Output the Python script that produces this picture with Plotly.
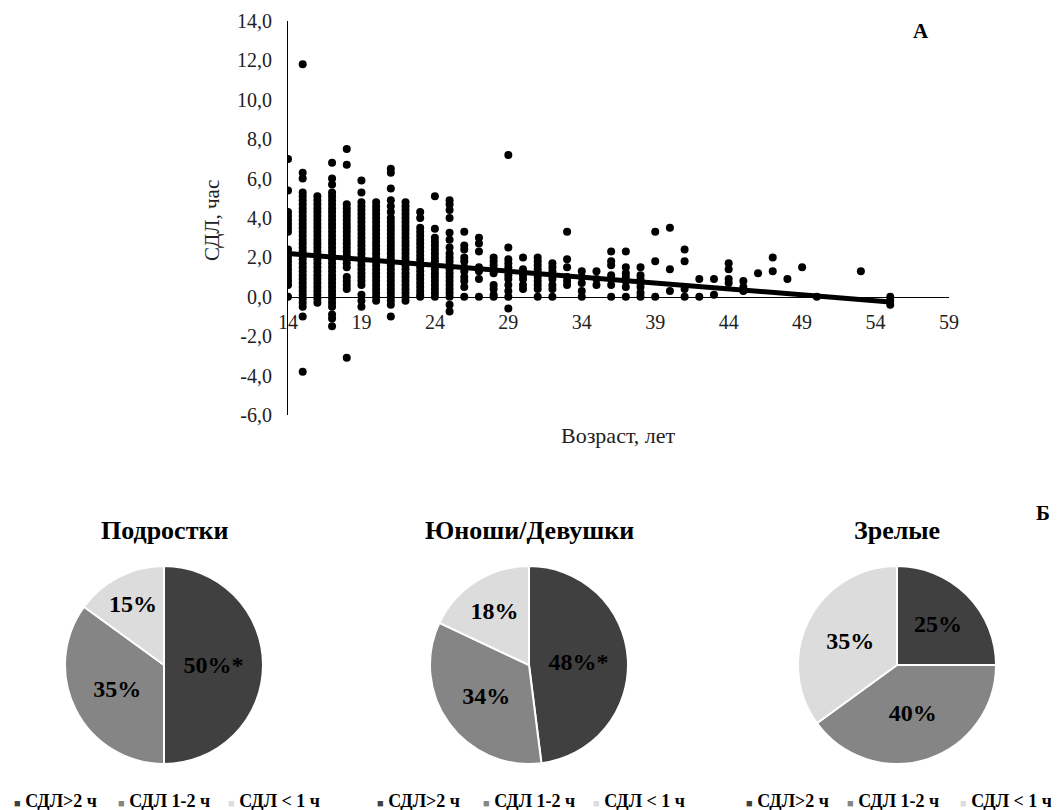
import plotly.graph_objects as go

# ---------------- Panel A data: СДЛ (hours) by age ----------------
col_14 = [7.0, 5.4, 4.3, 4.1, 3.9, 3.7, 3.5, 3.3, 2.4, 2.2, 2.0, 1.8, 1.6, 1.4, 1.2, 1.0, 0.8, 0.6, 0.0]
col_15 = [11.8, 6.3, 6.0, 5.3, 5.1, 4.9, 4.7, 4.5, 4.3, 4.1, 3.9, 3.7, 3.5, 3.3, 3.1, 2.9, 2.7, 2.5,
          2.3, 2.1, 1.9, 1.7, 1.5, 1.3, 1.1, 0.9, 0.7, 0.5, 0.3, 0.1, -0.1, -0.3, -0.5, -1.0, -3.8]
col_16 = [5.1, 4.9, 4.7, 4.5, 4.3, 4.1, 3.9, 3.7, 3.5, 3.3, 3.1, 2.9, 2.7, 2.5, 2.3, 2.1, 1.9, 1.7,
          1.5, 1.3, 1.1, 0.9, 0.7, 0.5, 0.3, 0.1, -0.1, -0.3]
col_17 = [6.8, 6.0, 5.7, 5.3, 5.1, 4.9, 4.7, 4.5, 4.3, 4.1, 3.9, 3.7, 3.5, 3.3, 3.1, 2.9, 2.7, 2.5,
          2.3, 2.1, 1.9, 1.7, 1.5, 1.3, 1.1, 0.9, 0.7, 0.5, 0.3, 0.1, -0.1, -0.3, -0.5, -0.9, -1.1, -1.5]
col_18 = [7.5, 6.7, 4.7, 4.5, 4.3, 4.1, 3.9, 3.7, 3.5, 3.3, 3.1, 2.9, 2.7, 2.5, 2.3, 2.1, 1.9, 1.7,
          1.5, 1.0, 0.8, 0.6, 0.4, -3.1]
col_19 = [5.9, 5.3, 4.8, 4.6, 4.4, 4.2, 4.0, 3.8, 3.6, 3.4, 3.2, 3.0, 2.8, 2.6, 2.4, 2.2, 2.0, 1.8,
          1.6, 1.4, 1.2, 1.0, 0.8, 0.6, 0.1, -0.2, -0.5]
col_20 = [4.8, 4.6, 4.4, 4.2, 4.0, 3.8, 3.6, 3.4, 3.2, 3.0, 2.8, 2.6, 2.4, 2.2, 2.0, 1.8, 1.6, 1.4,
          1.2, 1.0, 0.8, 0.6, 0.4, 0.2, 0.0, -0.2]
col_21 = [6.5, 6.3, 5.5, 4.9, 4.6, 4.3, 4.0, 3.8, 3.6, 3.4, 3.2, 3.0, 2.8, 2.6, 2.4, 2.2, 2.0, 1.8,
          1.6, 1.4, 1.2, 1.0, 0.8, 0.6, 0.4, 0.2, 0.0, -0.2, -0.4, -1.0]
col_22 = [4.8, 4.6, 4.4, 4.2, 4.0, 3.8, 3.6, 3.4, 3.2, 3.0, 2.8, 2.6, 2.4, 2.2, 2.0, 1.8, 1.6, 1.4,
          1.2, 1.0, 0.8, 0.6, 0.4, 0.2, 0.0, -0.2]
col_23 = [4.3, 4.0, 3.5, 3.3, 3.1, 2.9, 2.7, 2.5, 2.3, 2.1, 1.9, 1.7, 1.5, 1.3, 1.1, 0.9, 0.7, 0.5,
          0.3, 0.1, 0.0]
col_24 = [5.1, 3.45, 3.0, 2.8, 2.6, 2.4, 2.2, 2.0, 1.8, 1.6, 1.4, 1.2, 1.0, 0.8, 0.6, 0.4, 0.2, 0.0]
col_25 = [4.9, 4.7, 4.4, 4.0, 3.25, 2.9, 2.5, 2.2, 2.0, 1.8, 1.6, 1.4, 1.2, 1.0, 0.8, 0.6, 0.4, 0.2,
          0.0, -0.4, -0.75]
col_26 = [3.3, 2.6, 2.4, 2.0, 1.8, 1.5, 1.3, 1.0, 0.8, 0.5, 0.0]
col_27 = [3.0, 2.7, 2.3, 1.5, 1.3, 0.9, 0.0]
col_28 = [2.0, 1.8, 1.6, 1.4, 1.2, 0.6, 0.4, 0.1, 0.0]
col_29 = [7.2, 2.5, 1.9, 1.7, 1.5, 1.3, 1.1, 0.9, 0.6, 0.3, 0.0, -0.6]
col_30 = [2.0, 1.4, 1.1, 0.9, 0.6, 0.4]
col_31 = [2.0, 1.8, 1.6, 1.4, 1.2, 1.0, 0.8, 0.6, 0.4, 0.0]
col_32 = [1.7, 1.5, 1.3, 1.1, 0.9, 0.6, 0.4, 0.0]
col_33 = [3.3, 1.9, 1.5, 1.0, 0.8, 0.6]
col_34 = [1.3, 1.0, 0.7, 0.3, 0.0]
col_35 = [1.3, 0.9, 0.6]
col_36 = [2.3, 1.8, 1.6, 1.1, 0.9, 0.6, 0.0]
col_37 = [2.3, 1.5, 1.2, 1.0, 0.8, 0.5, 0.0]
col_38 = [1.5, 1.1, 0.9, 0.7, 0.5, 0.2, 0.0]
col_39 = [3.3, 1.8, 0.0]
col_40 = [3.5, 1.4, 0.3]
col_41 = [2.4, 1.8, 0.4, 0.0]
col_42 = [0.9, 0.0]
col_43 = [0.9, 0.1]
col_44 = [1.7, 1.4, 0.9, 0.7]
col_45 = [0.8, 0.5, 0.3]
col_46 = [1.2]
col_47 = [2.0, 1.3]
col_48 = [0.9]
col_49 = [1.5]
col_50 = [0.0]
col_53 = [1.3]
col_55 = [0.0, -0.2, -0.4]

ages = [14, 15, 16, 17, 18, 19, 20, 21, 22, 23, 24, 25, 26, 27, 28, 29, 30, 31, 32, 33,
        34, 35, 36, 37, 38, 39, 40, 41, 42, 43, 44, 45, 46, 47, 48, 49, 50, 53, 55]
age_columns = [col_14, col_15, col_16, col_17, col_18, col_19, col_20, col_21, col_22, col_23,
               col_24, col_25, col_26, col_27, col_28, col_29, col_30, col_31, col_32, col_33,
               col_34, col_35, col_36, col_37, col_38, col_39, col_40, col_41, col_42, col_43,
               col_44, col_45, col_46, col_47, col_48, col_49, col_50, col_53, col_55]

# linear trend (value at the ends of the age span)
trend_x = [14, 55]
trend_y = [2.2, -0.26]

x_tick_vals = [14, 19, 24, 29, 34, 39, 44, 49, 54, 59]
y_tick_vals = [-6, -4, -2, 0, 2, 4, 6, 8, 10, 12, 14]
y_tick_labels = ["-6,0", "-4,0", "-2,0", "0,0", "2,0", "4,0", "6,0", "8,0", "10,0", "12,0", "14,0"]

# ---------------- Panel Б data: pies ----------------
group_titles = ["Подростки", "Юноши/Девушки", "Зрелые"]
slice_labels = ["СДЛ>2 ч", "СДЛ 1-2 ч", "СДЛ < 1 ч"]
teen_values = [50, 35, 15]
young_values = [48, 34, 18]
mature_values = [25, 40, 35]
teen_marks = ["*", "", ""]
young_marks = ["*", "", ""]
mature_marks = ["", "", ""]

# ---------------- styling ----------------
FONT = "Liberation Serif"
W, H = 1059, 810
OFF = 8  # page body margin: figure origin sits at (8, 8) on screen
slice_colors = ["#404040", "#858585", "#dcdcdc"]


def fx(px):
    """screen x pixel -> paper fraction"""
    return (px - OFF) / W


def fy(py):
    """screen y pixel -> paper fraction"""
    return (H - (py - OFF)) / H


xs, ys = [], []
for a, col in zip(ages, age_columns):
    xs.extend([a] * len(col))
    ys.extend(col)

fig = go.Figure()
fig.add_trace(go.Scatter(x=xs, y=ys, mode="markers",
                         marker=dict(color="black", size=8), showlegend=False,
                         xaxis="x", yaxis="y"))
fig.add_trace(go.Scatter(x=trend_x, y=trend_y, mode="lines",
                         line=dict(color="black", width=5), showlegend=False,
                         xaxis="x", yaxis="y"))

# scatter plot area (screen pixels)
px_left, px_right = 288, 949
py_top, py_bottom = 21, 415
y_dom = [fy(py_bottom), fy(py_top)]
y_min, y_max = -6, 14
zero_pos = y_dom[0] + (0 - y_min) / (y_max - y_min) * (y_dom[1] - y_dom[0])

fig.update_layout(
    xaxis=dict(domain=[fx(px_left), fx(px_right)], range=[14, 59], anchor="free",
               position=zero_pos, showline=True, linecolor="black", linewidth=1,
               showgrid=False, zeroline=False, tickvals=x_tick_vals, ticks="",
               ticklabelstandoff=7, automargin=False,
               tickfont=dict(family=FONT, size=20, color="#222")),
    yaxis=dict(domain=y_dom, range=[y_min, y_max], anchor="x", showline=True,
               linecolor="black", linewidth=1, showgrid=False, zeroline=False,
               tickvals=y_tick_vals, ticktext=y_tick_labels, ticks="",
               ticklabelstandoff=11, automargin=False,
               tickfont=dict(family=FONT, size=20, color="#222")),
)

# pies
pie_centers = [164, 529, 897]
pie_cy = 665
pie_r = 99
all_values = [teen_values, young_values, mature_values]
all_marks = [teen_marks, young_marks, mature_marks]
for cx, vals, marks in zip(pie_centers, all_values, all_marks):
    texts = [f"{v}%{m}" for v, m in zip(vals, marks)]
    fig.add_trace(go.Pie(
        labels=slice_labels, values=vals, text=texts, textinfo="text",
        sort=False, direction="clockwise", rotation=0,
        marker=dict(colors=slice_colors, line=dict(color="white", width=2)),
        textposition="inside", insidetextorientation="horizontal",
        textfont=dict(family=FONT, size=24, color="black", weight="bold"),
        domain=dict(x=[fx(cx - pie_r), fx(cx + pie_r)],
                    y=[fy(pie_cy + pie_r), fy(pie_cy - pie_r)]),
        showlegend=False, hoverinfo="label+percent", automargin=False,
    ))

annotations = []


def note(x, y, text, size, color="#222", angle=0):
    return dict(x=fx(x), y=fy(y), xref="paper", yref="paper", xanchor="center",
                yanchor="middle", text=text, textangle=angle, showarrow=False,
                font=dict(family=FONT, size=size, color=color))


# axis titles
annotations.append(note(212, 220, "СДЛ, час", 21, angle=-90))
annotations.append(note(618, 436, "Возраст, лет", 22))
# panel letters
annotations.append(note(921, 31, "<b>А</b>", 21, color="black"))
annotations.append(note(1043, 513, "<b>Б</b>", 21, color="black"))
# pie titles
for cx, t in zip(pie_centers, group_titles):
    annotations.append(note(cx, 530, f"<b>{t}</b>", 26, color="black"))

# legends under each pie (marker + label)
legend_lefts = [[12, 116, 226], [375, 481, 591], [744, 845, 958]]


def esc(s):
    return s.replace("<", "&lt;").replace(">", "&gt;")


for lefts in legend_lefts:
    for lx, lab, colr in zip(lefts, slice_labels, slice_colors):
        annotations.append(dict(
            x=fx(lx), y=fy(801), xref="paper", yref="paper", xanchor="left",
            yanchor="middle",
            text=f'<span style="color:{colr};font-size:11px">■</span> <b>{esc(lab)}</b>',
            showarrow=False, font=dict(family=FONT, size=18, color="black")))

fig.update_layout(
    width=W, height=H, autosize=False,
    margin=dict(l=0, r=0, t=0, b=0, pad=0),
    paper_bgcolor="white", plot_bgcolor="white",
    annotations=annotations,
    uniformtext=dict(minsize=24, mode="show"),
    showlegend=False,
)

fig.write_html("out.html")
